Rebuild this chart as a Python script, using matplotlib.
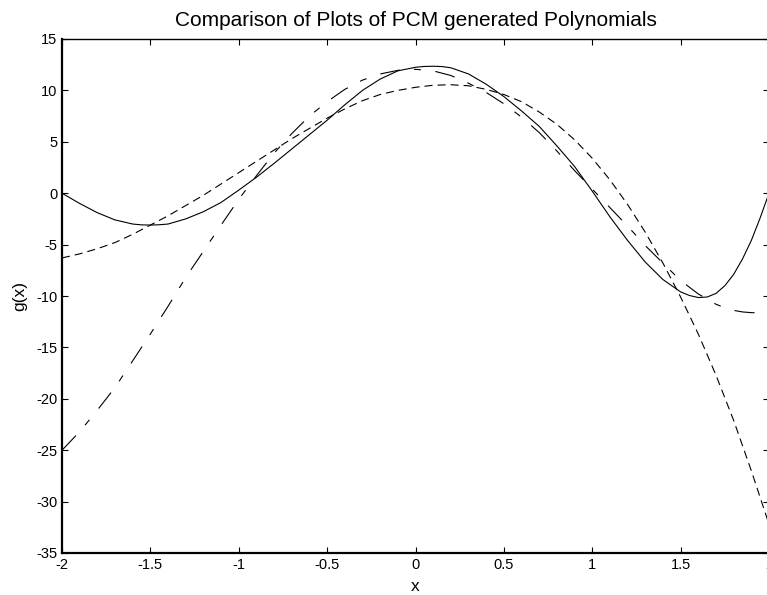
import matplotlib

matplotlib.use("Agg")
import matplotlib.pyplot as plt

# values
x_solid = [-2.0, -1.9, -1.8, -1.7, -1.6, -1.55, -1.5, -1.45, -1.4, -1.3, -1.2, -1.1, -1.0,
           -0.9, -0.8, -0.7, -0.6, -0.5, -0.4, -0.3, -0.2, -0.1, 0.0,
           0.05, 0.1, 0.15, 0.2, 0.3, 0.4, 0.5, 0.6, 0.7, 0.8, 0.9, 1.0,
           1.1, 1.2, 1.3, 1.4, 1.5, 1.55, 1.6, 1.65, 1.7, 1.75, 1.8, 1.85, 1.9, 1.95, 2.0]
g_solid = [0.0, -1.0, -1.9, -2.6, -3.0, -3.08, -3.1, -3.07, -3.0, -2.5, -1.8, -0.9, 0.3,
           1.55, 2.9, 4.3, 5.7, 7.1, 8.6, 10.0, 11.1, 11.9, 12.25,
           12.33, 12.35, 12.32, 12.2, 11.6, 10.6, 9.4, 8.0, 6.5, 4.6, 2.6, 0.2,
           -2.3, -4.6, -6.7, -8.4, -9.6, -9.95, -10.15, -10.1, -9.75, -9.0, -7.9, -6.4, -4.6, -2.4, 0.0]

x_short = [-2.0, -1.9, -1.8, -1.7, -1.6, -1.5, -1.4, -1.3, -1.2, -1.1, -1.0,
           -0.9, -0.8, -0.7, -0.6, -0.5, -0.4, -0.3, -0.2, -0.1, 0.0,
           0.1, 0.2, 0.3, 0.4, 0.5, 0.6, 0.7, 0.8, 0.9, 1.0,
           1.1, 1.2, 1.3, 1.4, 1.5, 1.6, 1.7, 1.8, 1.9, 2.0]
g_short = [-6.3, -5.9, -5.4, -4.8, -4.0, -3.1, -2.2, -1.2, -0.2, 0.9, 2.0,
           3.1, 4.2, 5.3, 6.3, 7.3, 8.2, 9.0, 9.6, 10.0, 10.3,
           10.5, 10.55, 10.45, 10.1, 9.6, 8.9, 7.9, 6.7, 5.2, 3.4,
           1.3, -1.1, -3.8, -6.8, -10.1, -13.7, -17.7, -22.1, -27.0, -32.2]

x_dashdot = [-2.0, -1.9, -1.8, -1.7, -1.6, -1.5, -1.4, -1.3, -1.2, -1.1, -1.0,
             -0.9, -0.8, -0.7, -0.6, -0.5, -0.4, -0.3, -0.2, -0.1, 0.0,
             0.1, 0.2, 0.3, 0.4, 0.5, 0.6, 0.7, 0.8, 0.9, 1.0,
             1.1, 1.2, 1.3, 1.4, 1.5, 1.6, 1.7, 1.75, 1.8, 1.85, 1.9, 2.0]
g_dashdot = [-25.0, -23.2, -21.1, -18.9, -16.3, -13.7, -11.0, -8.2, -5.65, -3.1, -0.6,
             1.7, 3.9, 5.8, 7.5, 8.9, 10.1, 11.0, 11.6, 11.95, 12.05,
             11.9, 11.45, 10.7, 9.8, 8.7, 7.4, 5.9, 4.1, 2.2, 0.4,
             -1.4, -3.2, -5.1, -6.8, -8.5, -9.8, -10.8, -11.15, -11.4, -11.55, -11.62, -11.65]

x_ticks = [-2, -1.5, -1, -0.5, 0, 0.5, 1, 1.5, 2]
x_labels = ["-2", "-1.5", "-1", "-0.5", "0", "0.5", "1", "1.5", "2"]
y_ticks = [-35, -30, -25, -20, -15, -10, -5, 0, 5, 10, 15]
y_labels = ["-35", "-30", "-25", "-20", "-15", "-10", "-5", "0", "5", "10", "15"]

plt.rcParams["font.family"] = ["Liberation Sans", "DejaVu Sans"]
plt.rcParams["lines.scale_dashes"] = False

fig = plt.figure(figsize=(7.67, 5.95), dpi=100)
ax = fig.add_axes([62 / 767, 42 / 595, 707 / 767, 514 / 595])

ax.plot(x_solid, g_solid, color="black", lw=0.8, ls="-")
ax.plot(x_short, g_short, color="black", lw=0.8, dashes=(5.8, 3.6))
ax.plot(x_dashdot, g_dashdot, color="black", lw=0.8, dashes=(14.5, 10, 5, 10.5))

ax.set_xlim(-2, 2)
ax.set_ylim(-35, 15)
ax.set_xticks(x_ticks)
ax.set_xticklabels(x_labels)
ax.set_yticks(y_ticks)
ax.set_yticklabels(y_labels)
ax.tick_params(direction="in", length=4.3, width=0.8, top=True, right=True,
               labelsize=10.5, pad=3.5, colors="black")

for side in ("left", "bottom"):
    ax.spines[side].set_linewidth(1.6)
for side in ("top", "right"):
    ax.spines[side].set_linewidth(1.0)

ax.set_title("Comparison of Plots of PCM generated Polynomials", fontsize=15, pad=9)
ax.set_xlabel("x", fontsize=12.5, labelpad=5)
ax.set_ylabel("g(x)", fontsize=12.5, labelpad=6)

fig.savefig("out.png", dpi=100)
